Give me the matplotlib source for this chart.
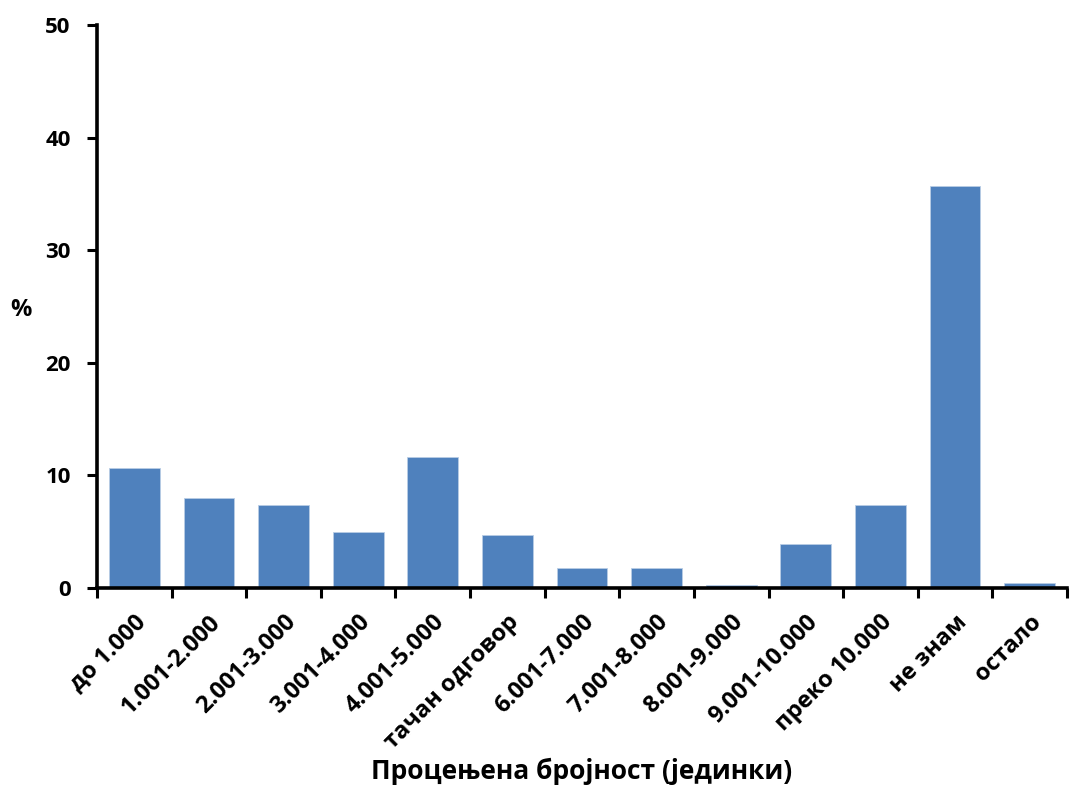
import matplotlib
matplotlib.use("Agg")
import matplotlib.pyplot as plt
import numpy as np

categories = ["до 1.000", "1.001-2.000", "2.001-3.000", "3.001-4.000", "4.001-5.000",
              "тачан одговор", "6.001-7.000", "7.001-8.000", "8.001-9.000",
              "9.001-10.000", "преко 10.000", "не знам", "остало"]
values = [10.7, 8.0, 7.4, 5.0, 11.6, 4.7, 1.8, 1.8, 0.25, 3.9, 7.4, 35.7, 0.4]
yticks = [0, 10, 20, 30, 40, 50]

plt.rcParams['font.family'] = ['Open Sans', 'DejaVu Sans']
plt.rcParams['font.weight'] = 'bold'

fig = plt.figure(figsize=(10.71, 7.89), dpi=100)
ax = fig.add_axes([97/1071, 1 - 588/789, (1067-97)/1071, (588-25)/789])

x = np.arange(len(categories))
ax.bar(x, values, width=0.68, color="#4F81BD", edgecolor="#B9CDE5", linewidth=0.6, zorder=2)

ax.set_xlim(-0.5, len(categories) - 0.5)
ax.set_ylim(0, 50)
ax.set_yticks(yticks)
ax.set_yticklabels([str(t) for t in yticks], fontsize=16, fontweight='bold')

ax.set_xticks(x)
ax.set_xticklabels(categories, rotation=45, ha='right', rotation_mode='anchor',
                   fontsize=17, fontweight='bold')
ax.tick_params(axis='x', which='major', length=0, pad=16)
ax.set_xticks(np.arange(-0.5, len(categories)), minor=True)
ax.tick_params(axis='x', which='minor', length=7, width=2.2, direction='out')
ax.tick_params(axis='y', length=7, width=2.2, direction='out', pad=12)

for s in ['top', 'right']:
    ax.spines[s].set_visible(False)
for s in ['left', 'bottom']:
    ax.spines[s].set_linewidth(2.6)

ax.set_ylabel("%", rotation=0, fontsize=17, fontweight='bold')
ax.yaxis.set_label_coords(-0.078, 0.472)
fig.text(582/1071, 0.005, "Процењена бројност (јединки)", ha='center', va='bottom',
         fontsize=19, fontweight='bold')

fig.savefig("out.png", dpi=100)
